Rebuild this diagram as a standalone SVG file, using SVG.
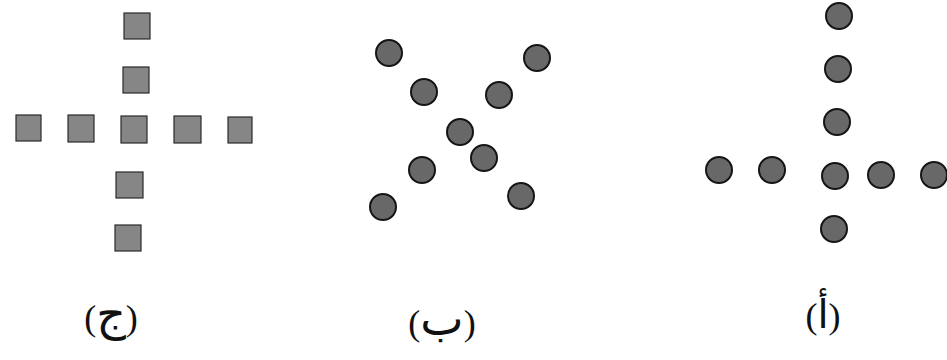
<svg xmlns="http://www.w3.org/2000/svg" width="947" height="360" viewBox="0 0 947 360">
  <style>
    .sq { fill: #868686; stroke: #2a2a2a; stroke-width: 1.2; }
    .dot { fill: #686868; stroke: #151515; stroke-width: 2; }
    .lbl { font-family: "Liberation Serif", "DejaVu Sans", serif; font-size: 36px; fill: #111; text-anchor: middle; }
    .ar { font-family: "DejaVu Sans", sans-serif; font-size: 46px; }
  </style>
  <rect width="947" height="360" fill="#ffffff"/>

  <g id="fig-jim">
    <rect class="sq" x="124" y="13" width="26" height="26"/>
    <rect class="sq" x="123" y="67" width="26" height="26"/>
    <rect class="sq" x="16" y="115" width="25" height="26"/>
    <rect class="sq" x="68" y="115" width="26" height="27"/>
    <rect class="sq" x="121" y="116" width="26" height="27"/>
    <rect class="sq" x="174" y="116" width="27" height="27"/>
    <rect class="sq" x="228" y="117" width="24" height="26"/>
    <rect class="sq" x="116" y="172" width="27" height="26"/>
    <rect class="sq" x="115" y="225" width="26" height="26"/>
  </g>

  <g id="fig-ba">
    <circle class="dot" cx="389" cy="53" r="13"/>
    <circle class="dot" cx="537" cy="58" r="13"/>
    <circle class="dot" cx="424" cy="92" r="13"/>
    <circle class="dot" cx="499" cy="95" r="13"/>
    <circle class="dot" cx="460" cy="132" r="13"/>
    <circle class="dot" cx="484" cy="158" r="13"/>
    <circle class="dot" cx="422" cy="170" r="13"/>
    <circle class="dot" cx="383" cy="207" r="13"/>
    <circle class="dot" cx="521" cy="196" r="13"/>
  </g>

  <g id="fig-alif">
    <circle class="dot" cx="839" cy="16" r="13"/>
    <circle class="dot" cx="838" cy="69" r="13"/>
    <circle class="dot" cx="837" cy="122" r="13"/>
    <circle class="dot" cx="719" cy="170" r="13"/>
    <circle class="dot" cx="772" cy="170" r="13"/>
    <circle class="dot" cx="835" cy="176" r="13"/>
    <circle class="dot" cx="881" cy="175" r="13"/>
    <circle class="dot" cx="934" cy="175" r="13"/>
    <circle class="dot" cx="834" cy="229" r="13"/>
  </g>

  <g id="labels">
    <text class="lbl" x="111" y="330">(<tspan class="ar">ج</tspan>)</text>
    <text class="lbl" x="442" y="335">(<tspan class="ar">ب</tspan>)</text>
    <text class="lbl" x="823" y="328">(<tspan class="ar" style="font-size:40px">أ</tspan>)</text>
  </g>
</svg>
